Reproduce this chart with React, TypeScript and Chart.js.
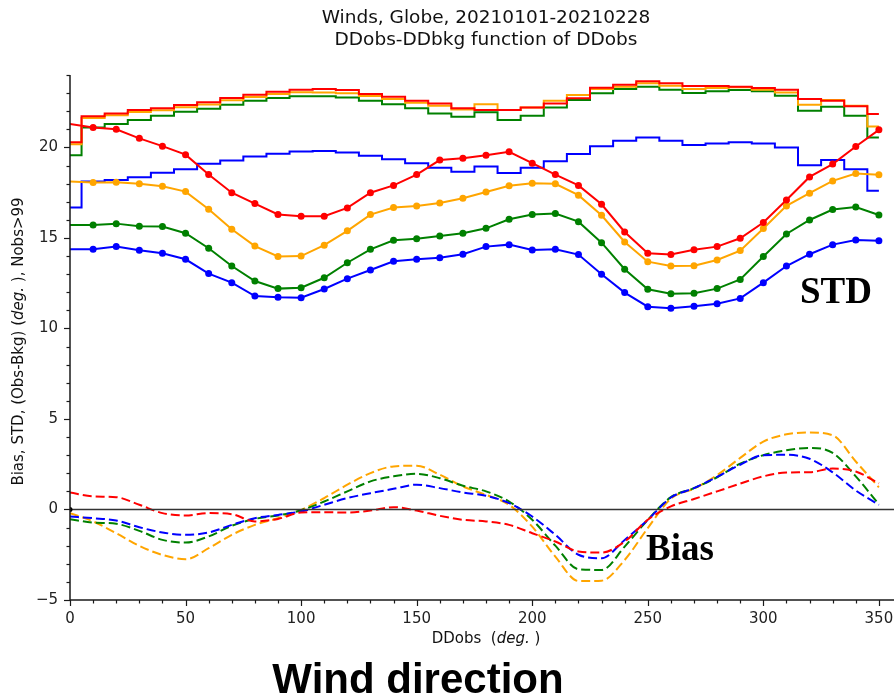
import React, { useEffect, useRef } from "react";
import { Chart, registerables } from "chart.js";

Chart.register(...registerables);

// Wind direction bins (deg.)
const directions = [0, 10, 20, 30, 40, 50, 60, 70, 80, 90, 100, 110, 120, 130, 140, 150, 160, 170, 180, 190, 200, 210, 220, 230, 240, 250, 260, 270, 280, 290, 300, 310, 320, 330, 340, 350];

// STD curves (with markers)
const stdRed = [21.3, 21.1, 21.0, 20.5, 20.07, 19.6, 18.5, 17.5, 16.9, 16.3, 16.2, 16.2, 16.66, 17.5, 17.9, 18.5, 19.3, 19.4, 19.57, 19.76, 19.13, 18.5, 17.9, 16.86, 15.33, 14.15, 14.08, 14.35, 14.52, 14.98, 15.85, 17.1, 18.37, 19.08, 20.05, 20.97];
const stdOrange = [18.12, 18.06, 18.08, 17.99, 17.86, 17.56, 16.58, 15.48, 14.55, 13.98, 14.0, 14.6, 15.39, 16.29, 16.68, 16.77, 16.93, 17.19, 17.54, 17.88, 18.02, 17.99, 17.36, 16.25, 14.78, 13.69, 13.45, 13.47, 13.78, 14.3, 15.52, 16.77, 17.47, 18.15, 18.56, 18.49];
const stdGreen = [15.72, 15.72, 15.79, 15.64, 15.63, 15.26, 14.43, 13.45, 12.62, 12.2, 12.25, 12.8, 13.63, 14.37, 14.87, 14.96, 15.11, 15.26, 15.53, 16.03, 16.29, 16.35, 15.9, 14.74, 13.27, 12.16, 11.92, 11.94, 12.2, 12.71, 13.97, 15.22, 15.99, 16.57, 16.71, 16.27];
const stdBlue = [14.37, 14.37, 14.52, 14.32, 14.15, 13.82, 13.03, 12.53, 11.79, 11.72, 11.7, 12.18, 12.75, 13.23, 13.71, 13.82, 13.91, 14.1, 14.52, 14.63, 14.33, 14.37, 14.08, 12.99, 11.98, 11.2, 11.12, 11.23, 11.37, 11.66, 12.53, 13.45, 14.1, 14.63, 14.89, 14.85];

// Step curves (Nobs, scaled)
const stepRed = [20.28, 21.72, 21.88, 22.06, 22.16, 22.34, 22.49, 22.73, 22.91, 23.08, 23.19, 23.23, 23.17, 22.95, 22.8, 22.58, 22.43, 22.17, 22.06, 22.06, 22.21, 22.43, 22.71, 23.3, 23.46, 23.65, 23.54, 23.39, 23.39, 23.35, 23.28, 23.19, 22.67, 22.58, 22.27, 21.84];
const stepOrange = [20.18, 21.62, 21.78, 21.95, 22.05, 22.22, 22.37, 22.6, 22.78, 22.95, 23.05, 23.04, 22.99, 22.84, 22.67, 22.47, 22.3, 22.1, 22.38, 22.06, 22.21, 22.58, 22.9, 23.23, 23.35, 23.54, 23.41, 23.23, 23.28, 23.32, 23.19, 23.04, 22.36, 22.62, 22.3, 21.16];
const stepGreen = [19.57, 21.1, 21.29, 21.51, 21.75, 21.97, 22.14, 22.36, 22.58, 22.73, 22.82, 22.82, 22.76, 22.58, 22.39, 22.16, 21.88, 21.69, 21.94, 21.51, 21.75, 22.21, 22.62, 22.99, 23.23, 23.35, 23.19, 23.0, 23.1, 23.17, 23.1, 22.86, 22.03, 22.25, 21.75, 20.55];
const stepBlue = [16.68, 18.12, 18.2, 18.35, 18.6, 18.8, 19.1, 19.28, 19.5, 19.65, 19.78, 19.8, 19.72, 19.54, 19.35, 19.13, 18.87, 18.65, 18.95, 18.58, 18.87, 19.24, 19.63, 20.07, 20.37, 20.55, 20.37, 20.14, 20.22, 20.28, 20.22, 20.0, 19.02, 19.3, 18.8, 17.6];

// Bias curves (dashed)
const biasRed = [0.94, 0.72, 0.68, 0.26, -0.2, -0.33, -0.2, -0.26, -0.66, -0.52, -0.17, -0.15, -0.17, -0.06, 0.13, -0.06, -0.35, -0.57, -0.66, -0.85, -1.31, -1.77, -2.32, -2.38, -1.77, -0.57, 0.17, 0.58, 1.0, 1.43, 1.83, 2.04, 2.06, 2.26, 2.1, 1.44];
const biasOrange = [-0.2, -0.66, -1.31, -2.01, -2.51, -2.75, -2.14, -1.4, -0.85, -0.48, -0.02, 0.63, 1.37, 2.01, 2.38, 2.42, 1.92, 1.27, 0.81, 0.26, -0.95, -2.6, -3.95, -3.93, -2.79, -1.03, 0.6, 1.15, 1.9, 2.85, 3.75, 4.15, 4.25, 4.1, 2.65, 1.22];
const biasGreen = [-0.54, -0.72, -0.79, -1.18, -1.68, -1.83, -1.49, -0.9, -0.52, -0.33, -0.04, 0.44, 1.0, 1.55, 1.83, 1.97, 1.73, 1.31, 1.0, 0.44, -0.57, -2.0, -3.3, -3.34, -2.05, -0.57, 0.68, 1.18, 1.78, 2.53, 3.0, 3.27, 3.4, 3.13, 1.83, 0.28];
const biasBlue = [-0.39, -0.48, -0.61, -0.98, -1.27, -1.4, -1.27, -0.85, -0.48, -0.3, -0.11, 0.26, 0.63, 0.9, 1.14, 1.37, 1.18, 0.94, 0.76, 0.35, -0.39, -1.4, -2.5, -2.69, -1.68, -0.57, 0.66, 1.18, 1.8, 2.47, 3.0, 3.02, 2.8, 2.05, 1.05, 0.26];

const zeroLineX = [0, 360];

const titleLines = ["Winds, Globe, 20210101-20210228", "DDobs-DDbkg function of DDobs"];
const xTickLabels = [0, 50, 100, 150, 200, 250, 300, 350];
const yTickLabels = [-5, 0, 5, 10, 15, 20];

const RED = "#ff0000";
const ORANGE = "#ffa500";
const GREEN = "#008000";
const BLUE = "#0000ff";
const AXIS = "#1a1a1a";

const pts = (ys: number[]) => ys.map((y, i) => ({ x: directions[i], y }));

const overlayPlugin = {
  id: "overlay",
  afterDraw(chart: any) {
    const { ctx, chartArea } = chart;
    const xs = chart.scales.x;
    const ys = chart.scales.y;
    ctx.save();
    // spines
    ctx.strokeStyle = AXIS;
    ctx.lineWidth = 1.5;
    ctx.beginPath();
    ctx.moveTo(chartArea.left, chartArea.top);
    ctx.lineTo(chartArea.left, chartArea.bottom);
    ctx.lineTo(chartArea.right, chartArea.bottom);
    ctx.stroke();
    // y ticks (major every 5, minor every 1)
    ctx.lineWidth = 1.2;
    for (let v = -5; v <= 24; v++) {
      const len = v % 5 === 0 ? 6 : 3.5;
      const py = Math.round(ys.getPixelForValue(v)) + 0.5;
      ctx.beginPath();
      ctx.moveTo(chartArea.left - len, py);
      ctx.lineTo(chartArea.left, py);
      ctx.stroke();
    }
    // x ticks (major every 50, minor every 10)
    for (let d = 0; d <= 360; d += 10) {
      const len = d % 50 === 0 ? 6 : 3.5;
      const px = Math.round(xs.getPixelForValue(d)) + 0.5;
      ctx.beginPath();
      ctx.moveTo(px, chartArea.bottom);
      ctx.lineTo(px, chartArea.bottom + len);
      ctx.stroke();
    }

    const drawMixed = (parts: { t: string; f: string }[], cx: number, cy: number) => {
      let total = 0;
      for (const p of parts) {
        ctx.font = p.f;
        total += ctx.measureText(p.t).width;
      }
      let x = cx - total / 2;
      ctx.textAlign = "left";
      ctx.textBaseline = "middle";
      for (const p of parts) {
        ctx.font = p.f;
        ctx.fillText(p.t, x, cy);
        x += ctx.measureText(p.t).width;
      }
    };

    // title
    ctx.fillStyle = "#111";
    ctx.font = "18.5px 'DejaVu Sans'";
    ctx.textAlign = "center";
    ctx.textBaseline = "middle";
    const cx = (chartArea.left + chartArea.right) / 2;
    ctx.fillText(titleLines[0], cx, 18);
    ctx.fillText(titleLines[1], cx, 40);

    // x axis label
    const nf = "15px 'DejaVu Sans'";
    const itf = "italic 15px 'DejaVu Sans'";
    drawMixed(
      [
        { t: "DDobs  (", f: nf },
        { t: "deg.", f: itf },
        { t: " )", f: nf },
      ],
      cx,
      639
    );

    // y axis label
    ctx.save();
    ctx.translate(19, (chartArea.top + chartArea.bottom) / 2 + 4);
    ctx.rotate(-Math.PI / 2);
    drawMixed(
      [
        { t: "Bias, STD, (Obs-Bkg) (", f: nf },
        { t: "deg.", f: itf },
        { t: " ), Nobs>99", f: nf },
      ],
      0,
      0
    );
    ctx.restore();

    // annotations
    ctx.fillStyle = "#000";
    ctx.textAlign = "left";
    ctx.textBaseline = "alphabetic";
    ctx.font = "bold 37px 'Liberation Serif'";
    ctx.fillText("STD", 800, 303);
    ctx.fillText("Bias", 646, 560);

    ctx.textAlign = "center";
    ctx.font = "bold 42px 'Liberation Sans'";
    ctx.fillText("Wind direction", 418, 693);
    ctx.restore();
  },
};

export default function App() {
  const ref = useRef<HTMLCanvasElement | null>(null);
  useEffect(() => {
    document.body.style.margin = "0";
    document.body.style.overflow = "hidden";
    const canvas = ref.current!;
    const stdDs = (label: string, ys: number[], color: string) => ({
      label,
      data: pts(ys),
      borderColor: color,
      backgroundColor: color,
      borderWidth: 2,
      pointRadius: (c: any) => (c.dataIndex === 0 ? 0 : 3.5),
      pointBorderWidth: 0,
      pointBackgroundColor: color,
      tension: 0,
      fill: false,
    });
    const stepDs = (label: string, ys: number[], color: string) => ({
      label,
      data: pts(ys),
      borderColor: color,
      borderWidth: 2,
      pointRadius: 0,
      stepped: "middle",
      fill: false,
    });
    const biasDs = (label: string, ys: number[], color: string) => ({
      label,
      data: pts(ys),
      borderColor: color,
      borderWidth: 2,
      borderDash: [9, 4],
      pointRadius: 0,
      cubicInterpolationMode: "monotone",
      fill: false,
    });
    const chart = new Chart(canvas, {
      type: "line",
      data: {
        datasets: [
          {
            label: "zero",
            data: zeroLineX.map((x) => ({ x, y: 0 })),
            borderColor: "#333",
            backgroundColor: "#000",
            borderWidth: 1.6,
            pointRadius: (c: any) => (c.dataIndex === 0 ? 2.5 : 0),
            pointBorderWidth: 0,
          },
          stdDs("STD red", stdRed, RED),
          stdDs("STD orange", stdOrange, ORANGE),
          stdDs("STD green", stdGreen, GREEN),
          stdDs("STD blue", stdBlue, BLUE),
          stepDs("N red", stepRed, RED),
          stepDs("N orange", stepOrange, ORANGE),
          stepDs("N green", stepGreen, GREEN),
          stepDs("N blue", stepBlue, BLUE),
          biasDs("Bias red", biasRed, RED),
          biasDs("Bias blue", biasBlue, BLUE),
          biasDs("Bias green", biasGreen, GREEN),
          biasDs("Bias orange", biasOrange, ORANGE),
        ] as any,
      },
      options: {
        animation: false,
        responsive: false,
        devicePixelRatio: 1,
        layout: { padding: { top: 75, left: 0, right: 8, bottom: 69 } },
        plugins: {
          legend: { display: false },
          tooltip: { enabled: false },
          title: { display: false },
        },
        scales: {
          x: {
            type: "linear",
            min: 0,
            max: 360,
            afterFit: (s: any) => {
              s.height = 30;
            },
            afterBuildTicks: (s: any) => {
              s.ticks = xTickLabels.map((value) => ({ value }));
            },
            grid: { display: false, drawTicks: false },
            border: { display: false },
            ticks: {
              padding: 10,
              color: "#222",
              font: { family: "'DejaVu Sans'", size: 15 },
              maxRotation: 0,
              autoSkip: false,
              includeBounds: false,
            },
          },
          y: {
            type: "linear",
            min: -5,
            max: 24,
            afterFit: (s: any) => {
              s.width = 70;
            },
            afterBuildTicks: (s: any) => {
              s.ticks = yTickLabels.map((value) => ({ value }));
            },
            grid: { display: false, drawTicks: false },
            border: { display: false },
            ticks: {
              padding: 12,
              color: "#222",
              font: { family: "'DejaVu Sans'", size: 15 },
              autoSkip: false,
              includeBounds: false,
              callback: (v: any) => (Number(v) < 0 ? "\u2212" + Math.abs(Number(v)) : String(v)),
            },
          },
        },
      } as any,
      plugins: [overlayPlugin],
    });
    return () => chart.destroy();
  }, []);
  return (
    <div style={{ position: "fixed", left: 0, top: 0, width: 910, height: 699, background: "#fff" }}>
      <canvas ref={ref} width={910} height={699} style={{ display: "block" }} />
    </div>
  );
}
